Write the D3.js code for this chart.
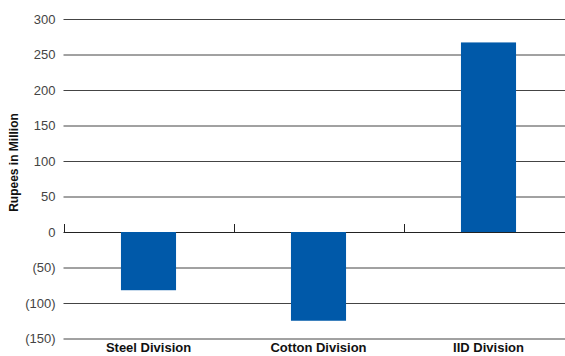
<!DOCTYPE html>
<html>
<head>
<meta charset="utf-8">
<script src="https://cdn.jsdelivr.net/npm/d3@7"></script>
<style>
  html, body { margin: 0; padding: 0; background: #fff; }
  svg { display: block; font-family: "Liberation Sans", Arial, Helvetica, sans-serif; }
</style>
</head>
<body>
<svg id="chart" width="565" height="356"></svg>
<script>
// Segment results, Rupees in Million
const categories = ["Steel Division", "Cotton Division", "IID Division"];
const values = [-82, -125, 267];
const tickValues = [-150, -100, -50, 0, 50, 100, 150, 200, 250, 300];
const axisTitle = "Rupees in Million";

const svg = d3.select("#chart");
const plot = { left: 63.5, right: 573.5, top: 19, bottom: 338.5 };

const y = d3.scaleLinear().domain([-150, 300]).range([plot.bottom, plot.top]);
const x = d3.scaleBand().domain(categories).range([plot.left, plot.right])
  .paddingInner(0.676).paddingOuter(0.338);

const fmt = v => v < 0 ? `(${Math.abs(v)})` : `${v}`;

// horizontal gridlines with labels
const yAxis = d3.axisLeft(y).tickValues(tickValues).tickFormat(fmt)
  .tickSize(-(plot.right - plot.left)).tickPadding(8);
const gy = svg.append("g").attr("transform", `translate(${plot.left},0)`).call(yAxis);
gy.select(".domain").remove();
gy.selectAll(".tick line")
  .attr("stroke", d => d === 0 ? "#222" : "#444")
  .attr("stroke-width", 1);
gy.selectAll(".tick text")
  .attr("fill", "#444")
  .style("font-size", "13px");

// bars
svg.append("g").selectAll("rect").data(values).join("rect")
  .attr("x", (d, i) => x(categories[i]))
  .attr("width", x.bandwidth())
  .attr("y", d => y(Math.max(0, d)))
  .attr("height", d => Math.abs(y(d) - y(0)))
  .attr("fill", "#0059a9");

// category boundary ticks on the zero line
const step = x.step();
const bounds = categories.map(c => x(c) - step * x.paddingInner() / 2);
svg.append("g").selectAll("line").data(bounds).join("line")
  .attr("x1", d => Math.round(d) + 0.5).attr("x2", d => Math.round(d) + 0.5)
  .attr("y1", y(0)).attr("y2", y(0) - 8)
  .attr("stroke", "#222").attr("stroke-width", 1);

// category labels
svg.append("g").selectAll("text").data(categories).join("text")
  .attr("x", d => x(d) + x.bandwidth() / 2)
  .attr("y", 352)
  .attr("text-anchor", "middle")
  .style("font-size", "13px")
  .style("font-weight", "bold")
  .attr("fill", "#111")
  .text(d => d);

// y axis title
svg.append("text")
  .attr("transform", `translate(18,162.5) rotate(-90)`)
  .attr("text-anchor", "middle")
  .style("font-size", "12px")
  .style("font-weight", "bold")
  .attr("fill", "#111")
  .text(axisTitle);
</script>
</body>
</html>
